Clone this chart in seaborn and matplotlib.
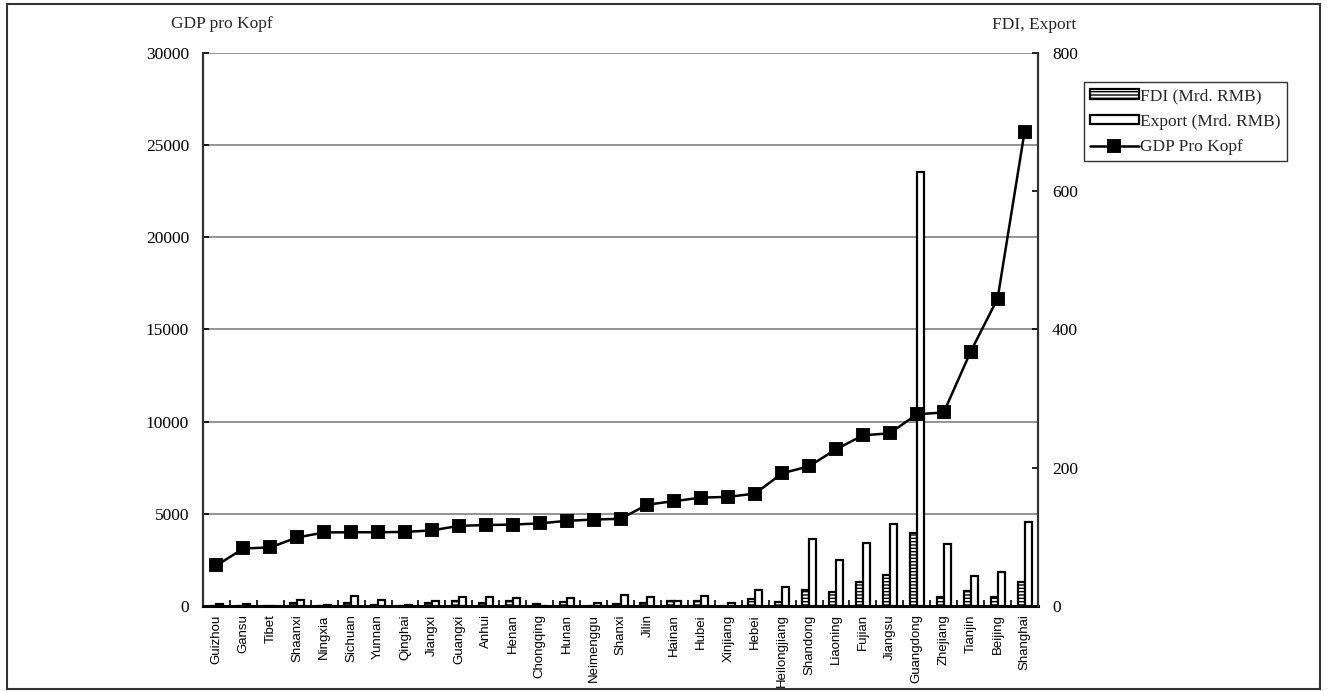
import matplotlib
matplotlib.use("Agg")
import matplotlib.pyplot as plt
from matplotlib import font_manager
from matplotlib.patches import Rectangle
from matplotlib.ticker import FixedLocator
import numpy as np
import pandas as pd
import seaborn as sns

# Provinces ordered by GDP per capita
provinces = ["Guizhou", "Gansu", "Tibet", "Shaanxi", "Ningxia", "Sichuan", "Yunnan",
             "Qinghai", "Jiangxi", "Guangxi", "Anhui", "Henan", "Chongqing", "Hunan",
             "Neimenggu", "Shanxi", "Jilin", "Hainan", "Hubei", "Xinjiang", "Hebei",
             "Heilongjiang", "Shandong", "Liaoning", "Fujian", "Jiangsu", "Guangdong",
             "Zhejiang", "Tianjin", "Beijing", "Shanghai"]

gdp_per_capita = [2200, 3120, 3180, 3720, 3990, 4000, 4000, 4020, 4100, 4350, 4390,
                  4420, 4480, 4620, 4690, 4730, 5500, 5690, 5880, 5920, 6100, 7200,
                  7580, 8500, 9260, 9370, 10400, 10500, 13800, 16680, 25720]

fdi = [0.5, 0.5, 0.2, 4, 0.3, 5, 1.5, 0.2, 4, 7, 4, 7, 3.5, 6, 0.5, 3, 4.5, 7, 7,
       0.5, 10, 6, 23, 20, 35, 45, 105, 12.5, 21, 13, 35]

export = [3.4, 2.5, 0.3, 8, 2, 15, 8, 1.5, 7, 13.5, 13, 12, 0.5, 12, 4, 16, 12.5, 7,
          14, 4, 23, 27, 97, 67, 91, 119, 628, 89, 43, 49, 122]

series_names = ["FDI (Mrd. RMB)", "Export (Mrd. RMB)"]
gdp_name = "GDP Pro Kopf"

gdp_ticks = [0, 5000, 10000, 15000, 20000, 25000, 30000]
trade_ticks = [0, 200, 400, 600, 800]

bars = pd.DataFrame({
    "Provinz": provinces * 2,
    "Wert": fdi + export,
    "Serie": [series_names[0]] * len(provinces) + [series_names[1]] * len(provinces),
})
line = pd.DataFrame({"Provinz": provinces, "GDP": gdp_per_capita})

sns.set_theme(style="white")
serif = "Liberation Serif"
plt.rcParams["font.family"] = [serif, "DejaVu Serif"]
plt.rcParams["hatch.linewidth"] = 1.0

# Province names in a narrow sans face when one is available
try:
    font_manager.findfont(font_manager.FontProperties(family="Liberation Sans Narrow"),
                          fallback_to_default=False)
    label_family, label_size = "Liberation Sans Narrow", 11
except ValueError:
    label_family, label_size = "Liberation Sans", 9.5

fig = plt.figure(figsize=(13.28, 6.91), dpi=100)
fig.patch.set_facecolor("white")
ax = fig.add_axes([0.15286, 0.12301, 0.62877, 0.80029])
ax_bar = ax.twinx()
ax_line = ax.twinx()

n = len(provinces)
xlim = (-0.5, n - 0.5)

# GDP axis (left) with horizontal grid
ax.set_facecolor("white")
ax.set_ylim(0, 30000)
ax.set_yticks(gdp_ticks)
ax.set_yticklabels([str(t) for t in gdp_ticks], fontsize=12.5, family=serif)
ax.yaxis.grid(True, color="#808080", linewidth=1.2)
ax.xaxis.grid(False)
ax.tick_params(axis="y", direction="in", length=4, width=1.2, pad=10, colors="black")
for side in ["top", "right"]:
    ax.spines[side].set_visible(False)
ax.spines["left"].set_color("#333333")
ax.spines["left"].set_linewidth(1.6)
ax.spines["bottom"].set_color("black")
ax.spines["bottom"].set_linewidth(2.2)

# FDI and export bars (right axis)
sns.barplot(data=bars, x="Provinz", y="Wert", hue="Serie", order=provinces,
            hue_order=series_names, palette=["white", "white"], edgecolor="black",
            linewidth=1.6, width=0.52, gap=0, ax=ax_bar, legend=False, zorder=3)
for patch in ax_bar.containers[0]:
    patch.set_hatch("-----")
ax_bar.set_ylim(0, 800)
ax_bar.set_yticks(trade_ticks)
ax_bar.set_yticklabels([str(t) for t in trade_ticks], fontsize=12.5, family=serif)
ax_bar.tick_params(axis="y", direction="in", length=4, width=1.2, pad=10, colors="black")
for side in ["top", "left", "bottom"]:
    ax_bar.spines[side].set_visible(False)
ax_bar.spines["right"].set_color("#333333")
ax_bar.spines["right"].set_linewidth(1.6)
ax_bar.set_xlabel("")
ax_bar.set_ylabel("")

# GDP per capita line on top
sns.pointplot(data=line, x="Provinz", y="GDP", order=provinces, color="black",
              markers="s", linestyles="-", markersize=9, linewidth=1.8,
              errorbar=None, ax=ax_line)
ax_line.set_ylim(0, 30000)
ax_line.set_yticks([])
ax_line.set_ylabel("")
ax_line.set_xlabel("")
for side in ax_line.spines:
    ax_line.spines[side].set_visible(False)

# Category axis: labels centred, tick marks between categories
for a in (ax, ax_bar, ax_line):
    a.set_xlim(*xlim)
ax.set_xticks(range(n))
ax.set_xticklabels(provinces, rotation=90, fontsize=label_size, family=label_family)
ax.xaxis.set_minor_locator(FixedLocator(np.arange(0.5, n - 0.5, 1.0)))
ax.tick_params(axis="x", which="major", length=0, pad=6, colors="black")
ax.tick_params(axis="x", which="minor", direction="in", length=4, width=1.2,
               bottom=True, color="black")
ax_bar.tick_params(axis="x", which="both", bottom=False, labelbottom=False)
ax_line.tick_params(axis="x", which="both", bottom=False, labelbottom=False)
ax.set_xlabel("")
ax.set_ylabel("")

# Axis titles
fig.text(222 / 1328, 1 - 24 / 691, "GDP pro Kopf", ha="center", va="center",
         fontsize=12.5, family=serif)
fig.text(1034 / 1328, 1 - 25 / 691, "FDI, Export", ha="center", va="center",
         fontsize=12.5, family=serif)

# Legend
handles = [ax_bar.containers[0][0], ax_bar.containers[1][0], ax_line.lines[0]]
leg = fig.legend(handles, series_names + [gdp_name], loc="upper left",
                 bbox_to_anchor=(1084 / 1328, 1 - 82 / 691), frameon=True,
                 fancybox=False, handlelength=2.8, handleheight=0.5,
                 handletextpad=0.1, labelspacing=0.55, borderpad=0.35,
                 borderaxespad=0, prop={"family": serif, "size": 12.5})
leg.get_frame().set_edgecolor("black")
leg.get_frame().set_linewidth(1.0)

# Outer frame round the chart
fig.patches.append(Rectangle((7 / 1328, 2 / 691), 1313 / 1328, 685 / 691,
                             transform=fig.transFigure, fill=False,
                             edgecolor="#333333", linewidth=1.5))

fig.savefig("out.png", dpi=100)
